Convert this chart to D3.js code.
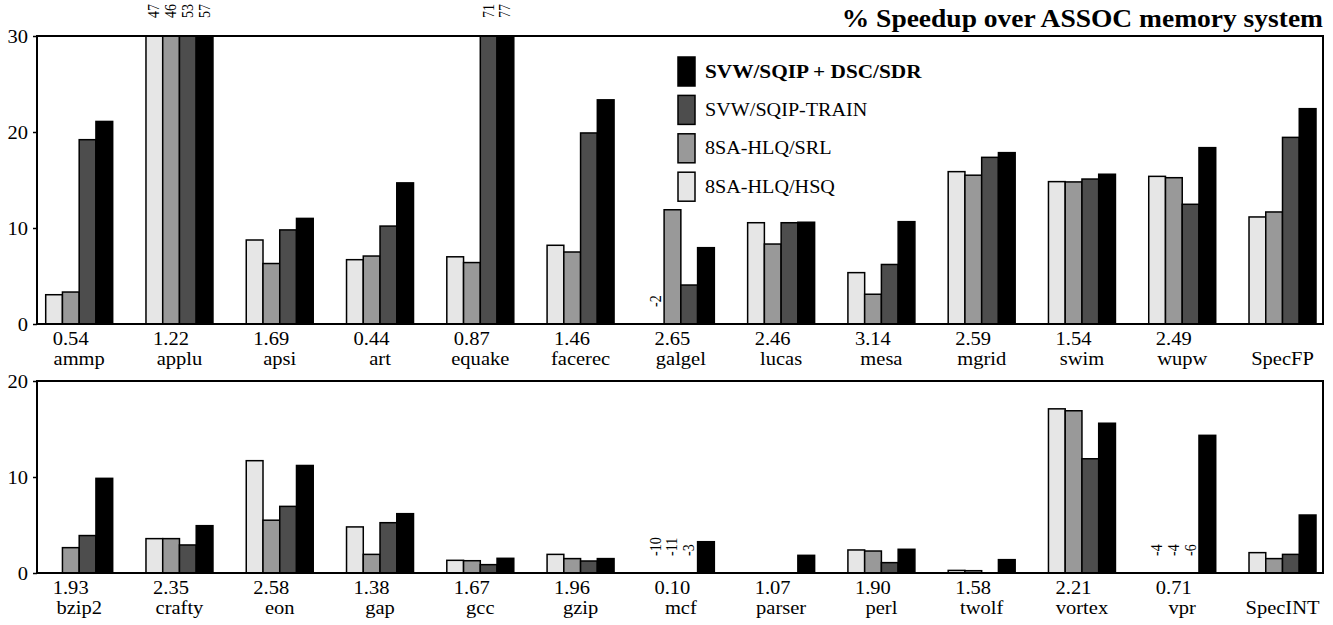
<!DOCTYPE html>
<html>
<head>
<meta charset="utf-8">
<script src="https://cdn.jsdelivr.net/npm/d3@7"></script>
<style>
body { margin: 0; background: #fff; }
svg { display: block; font-family: "Liberation Serif", "Times New Roman", serif; }
</style>
</head>
<body>
<svg id="chart" width="1333" height="625"></svg>
<script>
// series order: 8SA-HLQ/HSQ, 8SA-HLQ/SRL, SVW/SQIP-TRAIN, SVW/SQIP + DSC/SDR
const seriesNames = ["8SA-HLQ/HSQ", "8SA-HLQ/SRL", "SVW/SQIP-TRAIN", "SVW/SQIP + DSC/SDR"];
const seriesColors = ["#e6e6e6", "#999999", "#4d4d4d", "#000000"];

// SpecFP panel
const fpNames = ["ammp", "applu", "apsi", "art", "equake", "facerec", "galgel", "lucas", "mesa", "mgrid", "swim", "wupw", "SpecFP"];
const fpBase = ["0.54", "1.22", "1.69", "0.44", "0.87", "1.46", "2.65", "2.46", "3.14", "2.59", "1.54", "2.49", ""];
const fpHSQ = [3.05, 47, 8.75, 6.7, 7.0, 8.2, -2, 10.55, 5.35, 15.87, 14.83, 15.38, 11.15];
const fpSRL = [3.33, 46, 6.3, 7.08, 6.4, 7.5, 11.9, 8.33, 3.1, 15.5, 14.8, 15.24, 11.67];
const fpTrain = [19.2, 53, 9.8, 10.2, 71, 19.9, 4.06, 10.55, 6.2, 17.36, 15.1, 12.47, 19.44];
const fpDsc = [21.1, 57, 11.0, 14.7, 77, 23.35, 7.95, 10.6, 10.66, 17.85, 15.6, 18.37, 22.43];
const fpTicks = [0, 10, 20, 30];

// SpecINT panel (null = no bar)
const intNames = ["bzip2", "crafty", "eon", "gap", "gcc", "gzip", "mcf", "parser", "perl", "twolf", "vortex", "vpr", "SpecINT"];
const intBase = ["1.93", "2.35", "2.58", "1.38", "1.67", "1.96", "0.10", "1.07", "1.90", "1.58", "2.21", "0.71", ""];
const intHSQ = [null, 3.58, 11.7, 4.8, 1.32, 1.94, -10, null, 2.4, 0.27, 17.1, -4, 2.12];
const intSRL = [2.64, 3.58, 5.5, 1.94, 1.28, 1.5, -11, null, 2.29, 0.24, 16.9, -4, 1.5];
const intTrain = [3.9, 2.92, 6.94, 5.24, 0.87, 1.25, -3, null, 1.08, null, 11.9, -6, 1.94];
const intDsc = [9.86, 4.93, 11.2, 6.18, 1.53, 1.5, 3.26, 1.84, 2.47, 1.39, 15.6, 14.34, 6.04];
const intTicks = [0, 10, 20];

const svg = d3.select("#chart");
const left = 37, right = 1323;
const SX = 1.14; // text in the source figure is drawn a bit wide

function place(x, y, rot) {
	return "translate(" + x + "," + y + ") scale(" + SX + ",1)" + (rot ? " rotate(-90)" : "");
}

function drawPanel(top, bottom, yMax, ticks, names, base, series) {
	const g = svg.append("g");
	const x0 = d3.scaleBand().domain(names).range([left + 8.7, right - 7]).paddingInner(0.332).paddingOuter(0);
	const x1 = d3.scaleBand().domain(d3.range(series.length)).range([0, x0.bandwidth()]);
	const y = d3.scaleLinear().domain([0, yMax]).range([bottom, top]);

	// flatten into one record per bar
	let bars = [];
	names.forEach((n, i) => series.forEach((s, k) => {
		if (s[i] !== null) bars.push({ name: n, k: k, v: s[i] });
	}));

	g.selectAll("rect.bar").data(bars.filter(d => d.v >= 0)).enter().append("rect")
		.attr("class", "bar")
		.attr("x", d => x0(d.name) + x1(d.k))
		.attr("width", x1.bandwidth())
		.attr("y", d => y(Math.min(d.v, yMax)))
		.attr("height", d => y(0) - y(Math.min(d.v, yMax)))
		.attr("fill", d => seriesColors[d.k])
		.attr("stroke", "#000")
		.attr("stroke-width", 1.5);

	// values that don't fit: rotated number above the frame (too big) or above zero (negative)
	g.selectAll("text.off").data(bars.filter(d => d.v < 0 || d.v > yMax)).enter().append("text")
		.attr("class", "off")
		.attr("font-size", 14)
		.attr("transform", d => {
			let cx = x0(d.name) + x1(d.k) + x1.bandwidth() / 2 + 5;
			let yy = d.v < 0 ? y(0) - 17 : top - 18;
			return place(cx, yy, true);
		})
		.text(d => d.v);

	// frame
	g.append("rect")
		.attr("x", left).attr("y", top)
		.attr("width", right - left).attr("height", bottom - top)
		.attr("fill", "none").attr("stroke", "#000").attr("stroke-width", 2);

	const axis = g.append("g").attr("transform", "translate(" + left + ",0)")
		.call(d3.axisLeft(y).tickValues(ticks).tickSize(4).tickPadding(5));
	axis.attr("font-family", null).attr("font-size", null);
	axis.select(".domain").remove();
	axis.selectAll("line").attr("stroke-width", 1.5);
	axis.selectAll("text")
		.attr("font-size", 18)
		.attr("text-anchor", "end")
		.attr("x", 0).attr("dy", "0.35em")
		.attr("transform", "translate(-9,0) scale(" + SX + ",1)");

	// speedup numbers and benchmark names under each group
	g.selectAll("text.base").data(names).enter().append("text")
		.attr("class", "base")
		.attr("font-size", 18)
		.attr("text-anchor", "middle")
		.attr("transform", d => place(x0(d) + x0.bandwidth() / 2 - 8.5, bottom + 21))
		.text((d, i) => base[i]);

	g.selectAll("text.name").data(names).enter().append("text")
		.attr("class", "name")
		.attr("font-size", 18)
		.attr("text-anchor", "middle")
		.attr("transform", d => place(x0(d) + x0.bandwidth() / 2, bottom + 41))
		.text(d => d);
}

drawPanel(36, 324, 30, fpTicks, fpNames, fpBase, [fpHSQ, fpSRL, fpTrain, fpDsc]);
drawPanel(381, 573, 20, intTicks, intNames, intBase, [intHSQ, intSRL, intTrain, intDsc]);

// title
svg.append("text")
	.attr("font-size", 25)
	.attr("font-weight", "bold")
	.attr("text-anchor", "end")
	.attr("transform", "translate(" + right + ",26.5) scale(1.1,1)")
	.text("% Speedup over ASSOC memory system");

// legend, top entry is the last series
const legend = svg.append("g").attr("transform", "translate(678,57)");
const legendOrder = d3.range(seriesNames.length).reverse();
const item = legend.selectAll("g").data(legendOrder).enter().append("g")
	.attr("transform", (d, i) => "translate(0," + i * 38.4 + ")");
item.append("rect")
	.attr("width", 17).attr("height", 29)
	.attr("fill", d => seriesColors[d])
	.attr("stroke", "#000").attr("stroke-width", 1.5);
item.append("text")
	.attr("font-size", 18.5)
	.attr("font-weight", d => d === 3 ? "bold" : null)
	.attr("transform", d => "translate(27,20.5) scale(" + (d === 3 ? 1.15 : 1.09) + ",1)")
	.text(d => seriesNames[d]);
</script>
</body>
</html>
